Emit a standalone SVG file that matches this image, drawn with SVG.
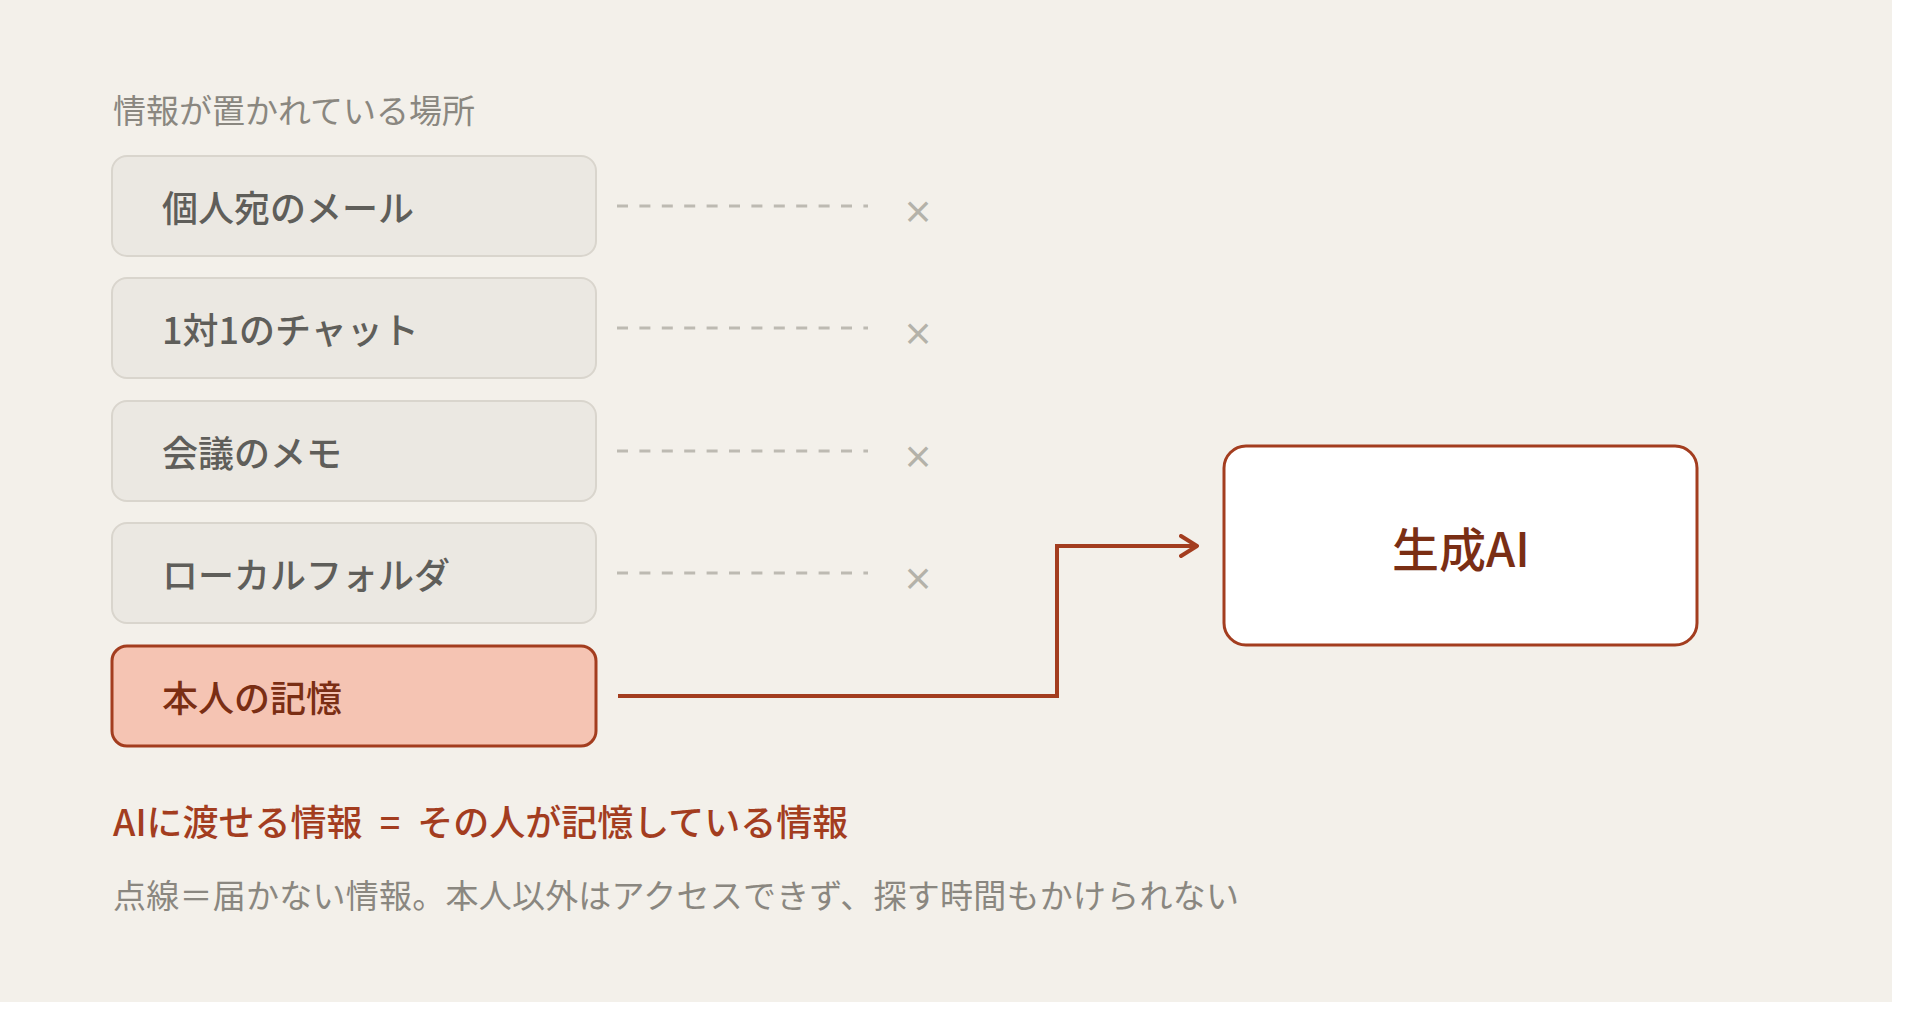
<svg xmlns="http://www.w3.org/2000/svg" width="1920" height="1030" viewBox="0 0 1920 1030">
<style>
.t{font-family:"Noto Sans CJK JP","Noto Sans",sans-serif;}
.src rect{fill:#EBE8E2;stroke:#D9D5CD;stroke-width:2;}
.src text{fill:#5F5E5A;font-size:36px;font-weight:500;}
.mem rect{fill:#F5C4B3;stroke:#A33D1F;stroke-width:3;}
.mem text{fill:#7A2E14;font-size:36px;font-weight:500;}
.dash{stroke:#BDBAB2;stroke-width:3;stroke-dasharray:11 11.4;fill:none;}
.x{fill:#B4B2A9;font-size:31px;font-weight:700;}
.cap{fill:#8A8780;font-size:33px;}
</style>
<defs>
<marker id="arr" viewBox="0 0 20 24" refX="18" refY="12" markerWidth="20" markerHeight="24" markerUnits="userSpaceOnUse" orient="auto">
<path d="M2,2 L18,12 L2,22" fill="none" stroke="#A33D1F" stroke-width="4" stroke-linecap="round" stroke-linejoin="round"/>
</marker>
</defs>
<rect x="0" y="0" width="1920" height="1030" fill="#FFFFFF"/>
<rect x="0" y="0" width="1892" height="1002" fill="#F3F0EA"/>
<text class="t cap" x="113" y="109" dominant-baseline="central">情報が置かれている場所</text>
<g id="node-mail" class="src"><rect x="112" y="156" width="484" height="100" rx="15"/><text class="t" x="162" y="206" dominant-baseline="central">個人宛のメール</text></g>
<g id="node-chat" class="src"><rect x="112" y="278" width="484" height="100" rx="15"/><text class="t" x="162" y="328" dominant-baseline="central">1対1のチャット</text></g>
<g id="node-memo" class="src"><rect x="112" y="401" width="484" height="100" rx="15"/><text class="t" x="162" y="451" dominant-baseline="central">会議のメモ</text></g>
<g id="node-folder" class="src"><rect x="112" y="523" width="484" height="100" rx="15"/><text class="t" x="162" y="573" dominant-baseline="central">ローカルフォルダ</text></g>
<g id="node-memory" class="mem"><rect x="112" y="646" width="484" height="100" rx="15"/><text class="t" x="162" y="696" dominant-baseline="central">本人の記憶</text></g>
<g id="node-ai"><rect x="1224" y="446" width="473" height="199" rx="22" fill="#FFFFFF" stroke="#A33D1F" stroke-width="3"/><text class="t" x="1461" y="546" text-anchor="middle" dominant-baseline="central" fill="#7A2E14" font-size="47" font-weight="500">生成AI</text></g>
<g id="connectors">
<line class="dash" x1="617" y1="206" x2="868" y2="206"/>
<line class="dash" x1="617" y1="328" x2="868" y2="328"/>
<line class="dash" x1="617" y1="451" x2="868" y2="451"/>
<line class="dash" x1="617" y1="573" x2="868" y2="573"/>
<text class="t x" x="918" y="209" text-anchor="middle" dominant-baseline="central">×</text>
<text class="t x" x="918" y="331" text-anchor="middle" dominant-baseline="central">×</text>
<text class="t x" x="918" y="454" text-anchor="middle" dominant-baseline="central">×</text>
<text class="t x" x="918" y="576" text-anchor="middle" dominant-baseline="central">×</text>
<path d="M618,696 H1057 V546 H1197" fill="none" stroke="#A33D1F" stroke-width="4" marker-end="url(#arr)"/>
</g>
<text class="t" x="113" y="820" dominant-baseline="central" fill="#A33D1F" font-size="36" font-weight="500">AIに渡せる情報<tspan dx="9"> = </tspan><tspan dx="9">その人が記憶している情報</tspan></text>
<text class="t cap" x="113" y="894" dominant-baseline="central" font-size="34" textLength="1126" lengthAdjust="spacing">点線＝届かない情報。本人以外はアクセスできず、探す時間もかけられない</text>
</svg>
